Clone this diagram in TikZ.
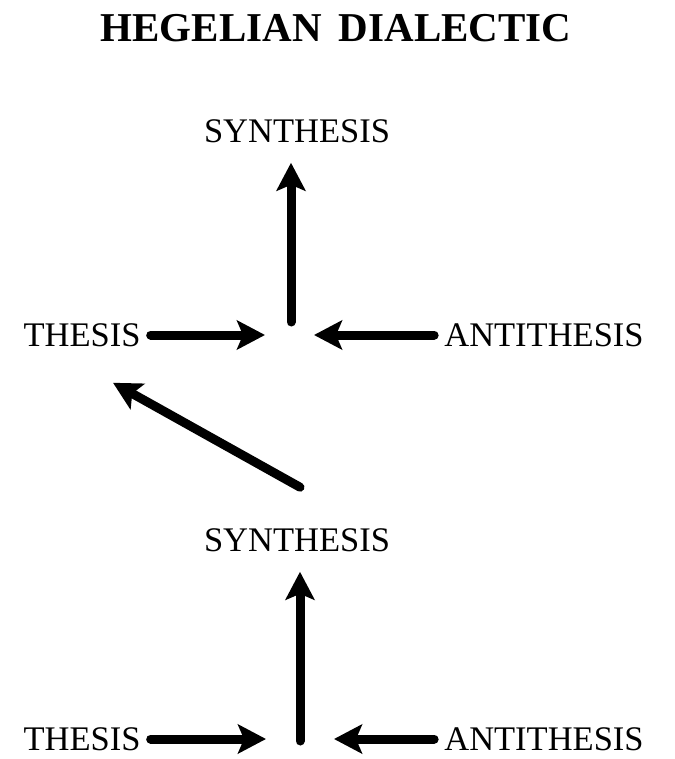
\documentclass[tikz,border=0pt]{standalone}
\usepackage{fontspec}
\setmainfont{Liberation Serif}
\usepackage{tikz}
\usetikzlibrary{arrows.meta,calc}

\begin{document}
\begin{tikzpicture}[x=1pt,y=-1pt,
  ttl/.style={inner sep=0pt, font=\fontsize{41}{46}\selectfont\bfseries},
  lbl/.style={inner xsep=10pt, inner ysep=2pt, font=\fontsize{34.5}{40}\selectfont},
  arr/.style={draw=black, line width=9pt, line cap=round,
              -{Stealth[length=28pt,width=29pt,inset=6pt]}},
  up/.style={arr, shorten >=18pt}
]
  \useasboundingbox (0,0) rectangle (674,759);

  \node[ttl] (title) at (336,28) {HEGELIAN\hspace{0.42em}DIALECTIC};

  % upper triad
  \node[lbl] (synA) at (297,131) {SYNTHESIS};
  \node[lbl] (thA)  at (82,335)  {THESIS};
  \node[lbl] (antA) at (544,335) {ANTITHESIS};
  \coordinate (mAw) at (265,335);
  \coordinate (mAe) at (314,335);
  \coordinate (mAs) at (291,322);

  % lower triad
  \node[lbl] (synB) at (297,540) {SYNTHESIS};
  \node[lbl] (thB)  at (82,739)  {THESIS};
  \node[lbl] (antB) at (544,739) {ANTITHESIS};
  \coordinate (mBw) at (266,739);
  \coordinate (mBe) at (334,739);
  \coordinate (mBs) at (300,741);

  \draw[arr] (thA)  -- (mAw);
  \draw[arr] (antA) -- (mAe);
  \draw[up]  (mAs)  -- (mAs |- synA.south);

  \draw[arr] (thB)  -- (mBw);
  \draw[arr] (antB) -- (mBe);
  \draw[up]  (mBs)  -- (mBs |- synB.south);

  \draw[arr] ([shift={(3,-39)}]synB.north) -- ([shift={(31,34)}]thA.south);

\end{tikzpicture}
\end{document}
